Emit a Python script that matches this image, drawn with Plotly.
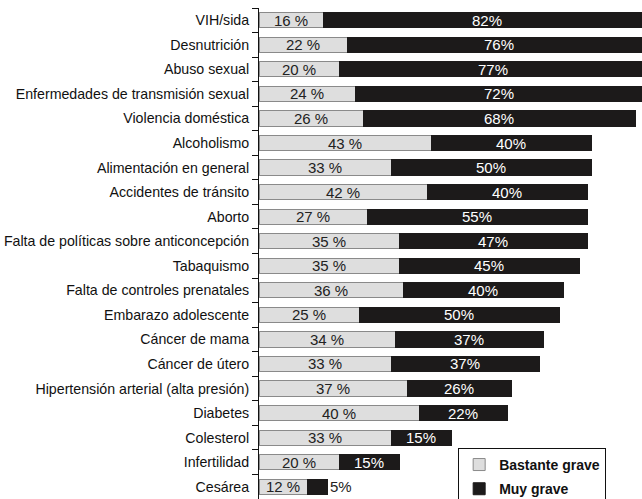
import plotly.graph_objects as go

categories = [
    "VIH/sida", "Desnutrición", "Abuso sexual",
    "Enfermedades de transmisión sexual", "Violencia doméstica",
    "Alcoholismo", "Alimentación en general", "Accidentes de tránsito",
    "Aborto", "Falta de políticas sobre anticoncepción", "Tabaquismo",
    "Falta de controles prenatales", "Embarazo adolescente",
    "Cáncer de mama", "Cáncer de útero",
    "Hipertensión arterial (alta presión)", "Diabetes", "Colesterol",
    "Infertilidad", "Cesárea",
]
bastante_grave = [16, 22, 20, 24, 26, 43, 33, 42, 27, 35, 35, 36, 25, 34, 33, 37, 40, 33, 20, 12]
muy_grave = [82, 76, 77, 72, 68, 40, 50, 40, 55, 47, 45, 40, 50, 37, 37, 26, 22, 15, 15, 5]

font_family = "Liberation Sans, Arial, sans-serif"

# the smallest black segment does not fit its label, it goes outside
muy_pos = ["inside" if v >= 10 else "outside" for v in muy_grave]

fig = go.Figure()
fig.add_trace(go.Bar(
    y=categories, x=bastante_grave, orientation="h",
    name="Bastante grave", legendgroup="a",
    marker=dict(color="#dedede", line=dict(color="#8a8a8a", width=1)),
    text=[f"{v} %" for v in bastante_grave],
    textposition="inside", insidetextanchor="middle",
    textfont=dict(color="#222222", size=15, family=font_family),
))
fig.add_trace(go.Bar(
    y=categories, x=muy_grave, orientation="h",
    name="Muy grave", legendgroup="b",
    marker=dict(color="#1c1a1a", line=dict(color="#1c1a1a", width=1)),
    text=[f"{v}%" for v in muy_grave],
    textposition=muy_pos, insidetextanchor="middle",
    insidetextfont=dict(color="white", size=15, family=font_family),
    outsidetextfont=dict(color="#222222", size=15, family=font_family),
))

fig.update_layout(
    width=642, height=499,
    barmode="stack", bargap=0.38,
    margin=dict(l=259, r=0, t=8, b=0, autoexpand=False),
    plot_bgcolor="white", paper_bgcolor="white",
    font=dict(family=font_family, size=14.2, color="#111111"),
    uniformtext=dict(minsize=15, mode="show"),
    legend=dict(
        x=0.52, y=0.104, xanchor="left", yanchor="top",
        traceorder="grouped", tracegroupgap=3,
        bgcolor="white", bordercolor="#111111", borderwidth=1,
        font=dict(size=14, color="#111111", family=font_family, weight="bold"),
    ),
)
fig.update_xaxes(range=[0, 95.75], visible=False, showgrid=False)
fig.update_yaxes(
    autorange="reversed", automargin=False,
    showline=True, linecolor="#111111", linewidth=1,
    ticks="outside", tickson="boundaries", ticklen=6, tickcolor="#111111",
    ticklabelstandoff=6, showgrid=False,
)

# drop the default body margin so the figure sits at the page corner
fig.write_html(
    "out.html",
    config={"displayModeBar": False},
    post_script="document.body.style.margin = '0';",
)
